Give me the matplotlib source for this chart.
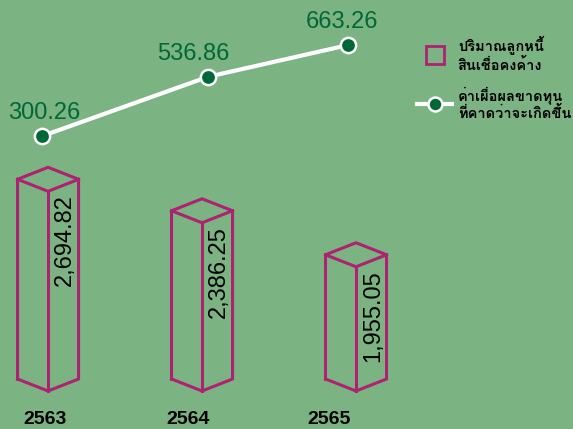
import numpy as np
import matplotlib.pyplot as plt
from matplotlib import font_manager
from matplotlib.ft2font import FT2Font
from matplotlib.lines import Line2D

# data
years = ["2563", "2564", "2565"]
loans = [2694.82, 2386.25, 1955.05]
allowance = [300.26, 536.86, 663.26]
legend_labels = ["ปริมาณลูกหนี้\nสินเชื่อคงค้าง", "ค่าเผื่อผลขาดทุน\nที่คาดว่าจะเกิดขึ้น"]

# hand placed nudges from the original artwork (pixels)
line_shift = [-6, 6, -8]
label_shift = [2, -15, -6]
year_shift = [-3, -14, -27]

bg = "#7cb383"
magenta = "#ad2271"
dkgreen = "#006837"


def thai_font():
    names = []
    for f in font_manager.fontManager.ttflist:
        try:
            if ord("ก") in FT2Font(f.fname).get_charmap():
                names.append(f.name)
        except Exception:
            pass
    return names[0] if names else "DejaVu Sans"


plt.rcParams["font.family"] = ["Liberation Sans", thai_font(), "DejaVu Sans"]

W, H = 573, 429
fig = plt.figure(figsize=(W / 100, H / 100), dpi=100, facecolor=bg)
ax = fig.add_axes([0, 38 / H, 1, (H - 38) / H])
base = 737
ax.set_xlim(-0.312, 3.409)
ax.set_ylim(base, base + (H - 38) / 0.102)
ax.axis("off")

px_x = (3.409 + 0.312) / W
px_y = ((H - 38) / 0.102) / (H - 38)
dx = 30.5 * px_x
dy = 12 * px_y

for i, v in enumerate(loans):
    xs = [i - dx, i - dx, i, i + dx, i + dx, i, i - dx]
    ys = [base + dy, v + dy, v + 2 * dy, v + dy, base + dy, base, base + dy]
    ax.plot(xs, ys, color=magenta, lw=2.2, clip_on=False, solid_joinstyle="miter")
    ax.plot([i - dx, i, i + dx], [v + dy, v, v + dy], color=magenta, lw=2.2, clip_on=False)
    ax.plot([i, i], [v, base], color=magenta, lw=2.2, clip_on=False)
    ax.text(i + 17 * px_x, v - 3 * px_y, f"{v:,.2f}", rotation=90, ha="center", va="top",
            fontsize=17, color="black")

for i, y in enumerate(years):
    ax.annotate(y, (i, base), xytext=(year_shift[i], -29), textcoords="offset pixels",
                ha="center", va="center", fontsize=14, fontweight="bold", color="black",
                annotation_clip=False)

ax2 = ax.twinx()
ax2.set_ylim(-716, 843)
ax2.axis("off")
xl = np.arange(len(allowance)) + np.array(line_shift) * px_x
ax2.plot(xl, allowance, color="white", lw=3, marker="o", ms=11, mfc=dkgreen, mec="white",
         mew=1.8, zorder=3)
for i, v in enumerate(allowance):
    ax2.annotate(f"{v:.2f}", (xl[i], v), xytext=(label_shift[i], 17), textcoords="offset pixels",
                 ha="center", va="baseline", fontsize=17, color=dkgreen)

handles = [
    Line2D([], [], ls="none", marker="s", ms=13, mfc="none", mec=magenta, mew=2),
    Line2D([], [], color="white", lw=3, marker="o", ms=10, mfc=dkgreen, mec="white", mew=1.8),
]
fig.legend(handles, legend_labels, loc="upper left", bbox_to_anchor=(417 / W, 1 - 36 / H),
           frameon=False, prop={"weight": "bold", "size": 10.5}, handlelength=2.4,
           handletextpad=0.4, labelspacing=0.9, borderpad=0, borderaxespad=0)

fig.savefig("out.png", dpi=100, facecolor=bg)
